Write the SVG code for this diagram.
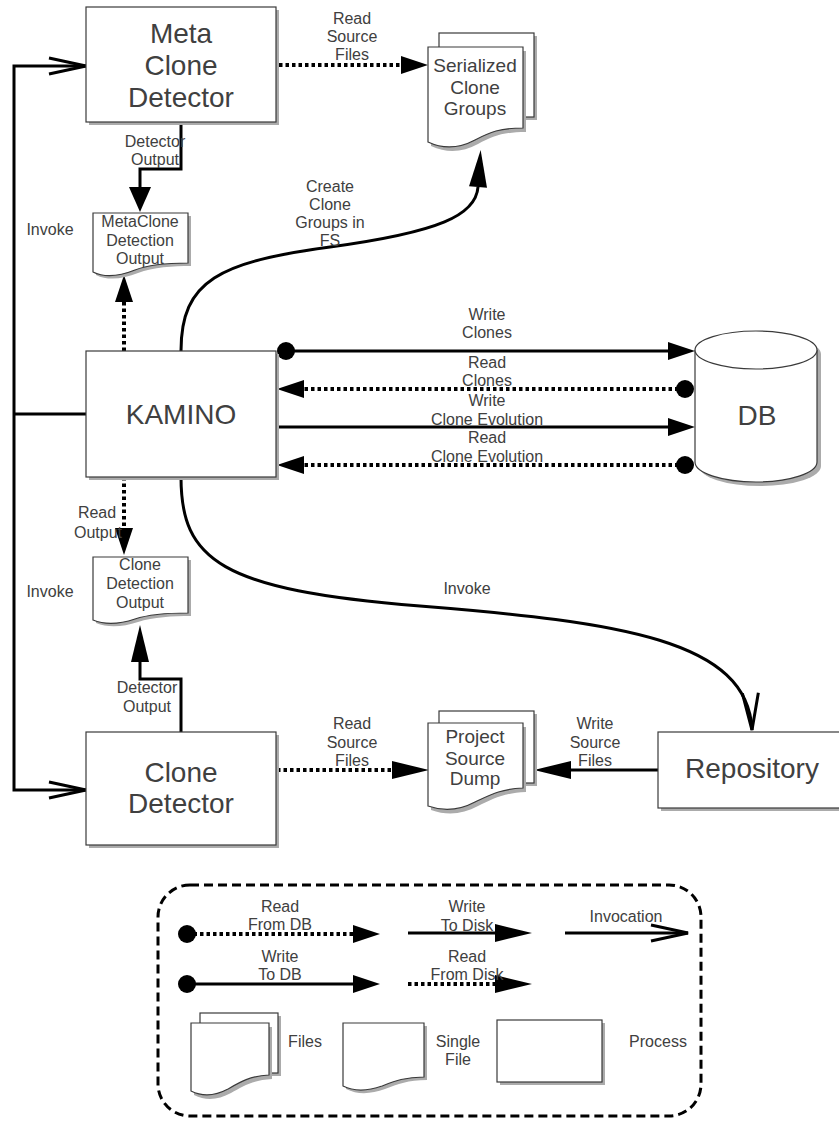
<svg xmlns="http://www.w3.org/2000/svg" width="839" height="1122" viewBox="0 0 839 1122">
<style>
.box{fill:#fff;stroke:#3a3a3a;stroke-width:1.2}
.sh{fill:#ababab;stroke:none}
.t{font-family:"Liberation Sans",Arial,sans-serif;fill:#404040;text-anchor:middle}
.big{font-size:28px}
.doc{font-size:19px}
.lbl{font-size:16px}
.solid{stroke:#000;stroke-width:3;fill:none}
.dotted{stroke:#000;stroke-width:4;stroke-dasharray:3.5 3;fill:none}
.legend{fill:none;stroke:#000;stroke-width:3;stroke-dasharray:9 5}
</style>
<defs>
<marker id="ah" markerUnits="userSpaceOnUse" viewBox="0 0 27 18" markerWidth="27" markerHeight="18" refX="0" refY="9" orient="auto" overflow="visible"><path d="M0,0 L27,9 L0,18 Z" fill="#000"/></marker>
<marker id="ahL" markerUnits="userSpaceOnUse" viewBox="0 0 37 18" markerWidth="37" markerHeight="18" refX="0" refY="9" orient="auto" overflow="visible"><path d="M0,0 L37,9 L0,18 Z" fill="#000"/></marker>
<marker id="ahV" markerUnits="userSpaceOnUse" viewBox="0 0 25 22" markerWidth="25" markerHeight="22" refX="0" refY="11" orient="auto" overflow="visible"><path d="M0,0 L25,11 L0,22 Z" fill="#000"/></marker>
<marker id="open" markerUnits="userSpaceOnUse" viewBox="0 0 37 16" markerWidth="37" markerHeight="16" refX="37" refY="8" orient="auto" overflow="visible"><path d="M0,0 L37,8 L0,16" fill="none" stroke="#000" stroke-width="3"/></marker>
<marker id="dotm" markerUnits="userSpaceOnUse" viewBox="0 0 18 18" markerWidth="18" markerHeight="18" refX="9" refY="9" orient="auto" overflow="visible"><circle cx="9" cy="9" r="9" fill="#000"/></marker>
</defs>

<g id="connectors">
  <path class="solid" d="M14,414 V66 H86" marker-end="url(#open)"/>
  <path class="solid" d="M14,414 V790 H86" marker-end="url(#open)"/>
  <path class="solid" d="M14,414 H86"/>
  <rect x="276" y="56" width="3" height="18" fill="#000"/>
  <line class="dotted" x1="279" y1="65" x2="401" y2="65" marker-end="url(#ah)"/>
  <polyline class="solid" stroke-width="3.5" points="181,122 181,169 140,169 140,187" marker-end="url(#ahV)"/>
  <line class="dotted" x1="124" y1="351" x2="124" y2="302" marker-end="url(#ah)"/>
  <path class="solid" d="M181,351 C181,280 220,262 330,247 C440,232 476,215 478,187" marker-end="url(#ahL)"/>
  <line class="solid" x1="286" y1="351" x2="668" y2="351" marker-start="url(#dotm)" marker-end="url(#ah)"/>
  <line class="dotted" x1="685" y1="389" x2="304" y2="389" marker-start="url(#dotm)" marker-end="url(#ah)"/>
  <line class="solid" x1="277" y1="427" x2="668" y2="427" marker-end="url(#ah)"/>
  <line class="dotted" x1="685" y1="465" x2="304" y2="465" marker-start="url(#dotm)" marker-end="url(#ah)"/>
  <line class="dotted" x1="124" y1="477" x2="124" y2="528" marker-end="url(#ah)"/>
  <path class="solid" d="M181,477 C181,560 220,590 420,606 C620,622 748,640 752,730" marker-end="url(#open)"/>
  <polyline class="solid" stroke-width="3.5" points="181,732 181,679 140,679 140,662" marker-end="url(#ahL)"/>
  <line class="dotted" x1="277" y1="770" x2="392" y2="770" marker-end="url(#ahL)"/>
  <line class="solid" x1="658" y1="770" x2="571" y2="770" marker-end="url(#ahL)"/>
</g>

<g id="connector-labels">
  <text class="t lbl" x="352" y="24">Read</text>
  <text class="t lbl" x="352" y="42">Source</text>
  <text class="t lbl" x="352" y="60">Files</text>
  <text class="t lbl" x="155" y="147">Detector</text>
  <text class="t lbl" x="155" y="165">Output</text>
  <text class="t lbl" x="50" y="235">Invoke</text>
  <text class="t lbl" x="330" y="192">Create</text>
  <text class="t lbl" x="330" y="210">Clone</text>
  <text class="t lbl" x="330" y="228">Groups in</text>
  <text class="t lbl" x="330" y="246">FS</text>
  <text class="t lbl" x="487" y="320">Write</text>
  <text class="t lbl" x="487" y="338">Clones</text>
  <text class="t lbl" x="487" y="368">Read</text>
  <text class="t lbl" x="487" y="386">Clones</text>
  <text class="t lbl" x="487" y="406">Write</text>
  <text class="t lbl" x="487" y="425">Clone Evolution</text>
  <text class="t lbl" x="487" y="443">Read</text>
  <text class="t lbl" x="487" y="462">Clone Evolution</text>
  <text class="t lbl" x="97" y="518">Read</text>
  <text class="t lbl" x="98" y="538">Output</text>
  <text class="t lbl" x="50" y="597">Invoke</text>
  <text class="t lbl" x="467" y="594">Invoke</text>
  <text class="t lbl" x="147" y="693">Detector</text>
  <text class="t lbl" x="147" y="712">Output</text>
  <text class="t lbl" x="352" y="729">Read</text>
  <text class="t lbl" x="352" y="747.5">Source</text>
  <text class="t lbl" x="352" y="766">Files</text>
  <text class="t lbl" x="595" y="729">Write</text>
  <text class="t lbl" x="595" y="747.5">Source</text>
  <text class="t lbl" x="595" y="766">Files</text>
</g>

<g id="meta-clone-detector">
  <rect class="sh" x="89" y="10" width="190" height="115"/>
  <rect class="box" x="86" y="7" width="190" height="115"/>
  <text class="t big" x="181" y="43">Meta</text>
  <text class="t big" x="181" y="75">Clone</text>
  <text class="t big" x="181" y="107">Detector</text>
</g>

<g id="serialized-clone-groups">
  <rect class="sh" x="442" y="36" width="95" height="84"/>
  <rect class="box" x="439" y="33" width="95" height="84"/>
  <path class="sh" transform="translate(3,4)" d="M428,47 H523 V128 C500,128 490,132 475,140 C460,148 445,150 428,142 Z"/>
  <path class="box" d="M428,47 H523 V128 C500,128 490,132 475,140 C460,148 445,150 428,142 Z"/>
  <text class="t doc" x="475" y="72">Serialized</text>
  <text class="t doc" x="475" y="94">Clone</text>
  <text class="t doc" x="475" y="115">Groups</text>
</g>

<g id="metaclone-detection-output">
  <path class="sh" transform="translate(3,3)" d="M93,213 H188 V263 C170,263 150,264 135,270 C120,276 105,278 93,272 Z"/>
  <path class="box" d="M93,213 H188 V263 C170,263 150,264 135,270 C120,276 105,278 93,272 Z"/>
  <text class="t lbl" x="140" y="227">MetaClone</text>
  <text class="t lbl" x="140" y="246">Detection</text>
  <text class="t lbl" x="140" y="264">Output</text>
</g>

<g id="kamino">
  <rect class="sh" x="89" y="354" width="190" height="126"/>
  <rect class="box" x="86" y="351" width="190" height="126"/>
  <text class="t big" x="181" y="424">KAMINO</text>
</g>

<g id="db">
  <path class="sh" transform="translate(4,4)" d="M695,350 A61,19 0 0 1 817,350 V462 A61,20 0 0 1 695,462 Z"/>
  <path class="box" d="M695,350 A61,19 0 0 1 817,350 V462 A61,20 0 0 1 695,462 Z"/>
  <path class="box" fill="none" d="M695,350 A61,19 0 0 0 817,350"/>
  <text class="t big" x="757" y="425">DB</text>
</g>

<g id="clone-detection-output">
  <path class="sh" transform="translate(3,3)" d="M93,557 H188 V613 C170,613 150,614 135,619 C120,624 105,625 93,620 Z"/>
  <path class="box" d="M93,557 H188 V613 C170,613 150,614 135,619 C120,624 105,625 93,620 Z"/>
  <text class="t lbl" x="140" y="570">Clone</text>
  <text class="t lbl" x="140" y="589">Detection</text>
  <text class="t lbl" x="140" y="608">Output</text>
</g>

<g id="clone-detector">
  <rect class="sh" x="89" y="735" width="190" height="113"/>
  <rect class="box" x="86" y="732" width="190" height="113"/>
  <text class="t big" x="181" y="782">Clone</text>
  <text class="t big" x="181" y="813">Detector</text>
</g>

<g id="project-source-dump">
  <rect class="sh" x="442" y="714" width="95" height="72"/>
  <rect class="box" x="439" y="711" width="95" height="72"/>
  <path class="sh" transform="translate(3,4)" d="M428,723 H523 V788 C500,789 490,795 475,802 C460,810 445,812 428,806 Z"/>
  <path class="box" d="M428,723 H523 V788 C500,789 490,795 475,802 C460,810 445,812 428,806 Z"/>
  <text class="t doc" x="475" y="743">Project</text>
  <text class="t doc" x="475" y="765">Source</text>
  <text class="t doc" x="475" y="785">Dump</text>
</g>

<g id="repository">
  <rect class="sh" x="661" y="735" width="190" height="76"/>
  <rect class="box" x="658" y="732" width="190" height="76"/>
  <text class="t big" x="752" y="778">Repository</text>
</g>

<g id="legend">
  <rect class="legend" x="158" y="885" width="543" height="231" rx="32" ry="32"/>
  <line class="dotted" x1="187" y1="934" x2="353" y2="934" marker-start="url(#dotm)" marker-end="url(#ah)"/>
  <text class="t lbl" x="280" y="912">Read</text>
  <text class="t lbl" x="280" y="930">From DB</text>
  <line class="solid" x1="408" y1="933" x2="495" y2="933" marker-end="url(#ahL)"/>
  <text class="t lbl" x="467" y="912">Write</text>
  <text class="t lbl" x="467" y="931">To Disk</text>
  <line class="solid" x1="565" y1="933" x2="688" y2="933" marker-end="url(#open)"/>
  <text class="t lbl" x="626" y="922">Invocation</text>
  <line class="solid" x1="187" y1="984" x2="353" y2="984" marker-start="url(#dotm)" marker-end="url(#ah)"/>
  <text class="t lbl" x="280" y="962">Write</text>
  <text class="t lbl" x="280" y="980">To DB</text>
  <line class="dotted" x1="408" y1="984" x2="495" y2="984" marker-end="url(#ahL)"/>
  <text class="t lbl" x="467" y="962">Read</text>
  <text class="t lbl" x="467" y="980">From Disk</text>
  <rect class="sh" x="203" y="1016" width="78" height="60"/>
  <rect class="box" x="200" y="1013" width="78" height="60"/>
  <path class="sh" transform="translate(3,4)" d="M191,1023 H269 V1075 C250,1076 240,1082 228,1089 C215,1096 203,1097 191,1091 Z"/>
  <path class="box" d="M191,1023 H269 V1075 C250,1076 240,1082 228,1089 C215,1096 203,1097 191,1091 Z"/>
  <text class="t lbl" x="305" y="1047">Files</text>
  <path class="sh" transform="translate(3,3)" d="M343,1023 H424 V1077 C405,1077 395,1081 382,1086 C368,1091 355,1092 343,1086 Z"/>
  <path class="box" d="M343,1023 H424 V1077 C405,1077 395,1081 382,1086 C368,1091 355,1092 343,1086 Z"/>
  <text class="t lbl" x="458" y="1047">Single</text>
  <text class="t lbl" x="458" y="1065">File</text>
  <rect class="sh" x="500" y="1023" width="105" height="62"/>
  <rect class="box" x="497" y="1020" width="105" height="62"/>
  <text class="t lbl" x="658" y="1047">Process</text>
</g>
</svg>
